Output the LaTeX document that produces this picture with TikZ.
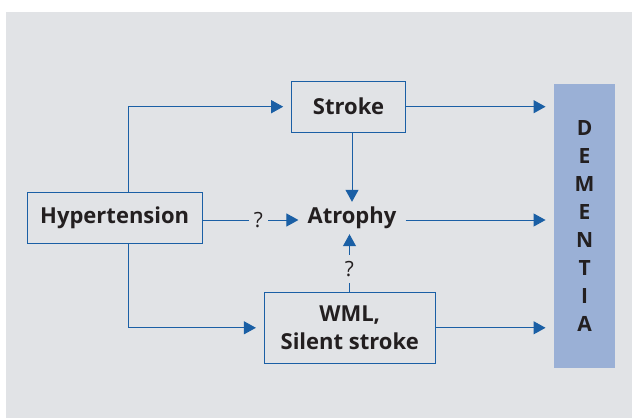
\documentclass[tikz,border=0pt]{standalone}
\usepackage{fontspec}
\setmainfont{Open Sans}
\usetikzlibrary{arrows.meta,calc}
\definecolor{bg}{HTML}{E1E3E6}
\definecolor{lineblue}{HTML}{1A5FA5}
\definecolor{bar}{HTML}{9AB0D6}
\definecolor{txt}{HTML}{231F20}
\begin{document}
\begin{tikzpicture}[x=1pt,y=-1pt,
  box/.style={draw=lineblue,line width=1pt,fill=bg,inner sep=0pt,font=\fontsize{22}{28.5}\selectfont\bfseries,text=txt,align=center},
  lbl/.style={inner sep=0pt,font=\fontsize{21}{24}\selectfont,text=txt},
  conn/.style={draw=lineblue,line width=1pt},
  arr/.style={conn,-{Triangle[length=12pt,width=13pt]}},
  gap/.style={shorten >=8pt}]
\useasboundingbox (0,0) rectangle (632,418);
\fill[white] (0,0) rectangle (632,418);
\fill[bg] (6.4,11.7) rectangle (632,418);
\node[box,minimum width=174.6pt,minimum height=50.6pt] (hyp) at (114.7,218) {Hypertension};
\node[box,minimum width=113.6pt,minimum height=50.7pt] (stroke) at (348.5,106.7) {Stroke};
\node[box,minimum width=170.6pt,minimum height=71pt] (wml) at (349.7,327.8) {WML,\\Silent stroke};
\node[inner xsep=9pt,inner ysep=0pt,minimum height=32pt,font=\fontsize{22}{24}\selectfont\bfseries,text=txt] (atr) at (352,218) {Atrophy};
\node[fill=bar,minimum width=61.7pt,minimum height=283.7pt,inner sep=0pt] (dem) at (584.6,225.8) {};
\node[font=\fontsize{21}{28.1}\selectfont\bfseries,text=txt,align=center,inner sep=0pt] (demtxt) at (584.6,226) {D\\E\\M\\E\\N\\T\\I\\A};
\node[lbl,minimum width=19.3pt] (q1) at (258.4,220) {?};
\node[lbl,minimum height=28pt] (q2) at (349.5,269) {?};
\draw[conn] (hyp.east |- q1.west) -- (q1.west);
\draw[arr] (q1.east) -- (q1.east -| atr.west);
\draw[arr,gap] ([xshift=13.3pt]hyp.north) |- (stroke.west);
\draw[arr,gap] ([xshift=13.3pt]hyp.south) |- (wml.west);
\draw[arr] (stroke.south -| atr.north) -- (atr.north);
\draw[conn] (wml.north -| q2.south) -- (q2.south);
\draw[arr] (q2.north) -- (q2.north |- atr.south);
\draw[arr,gap] (stroke.east) -- (stroke.east -| dem.west);
\draw[arr,gap] (atr.east |- q1.east) -- (q1.east -| dem.west);
\draw[arr,gap] (wml.east) -- (wml.east -| dem.west);
\end{tikzpicture}
\end{document}
